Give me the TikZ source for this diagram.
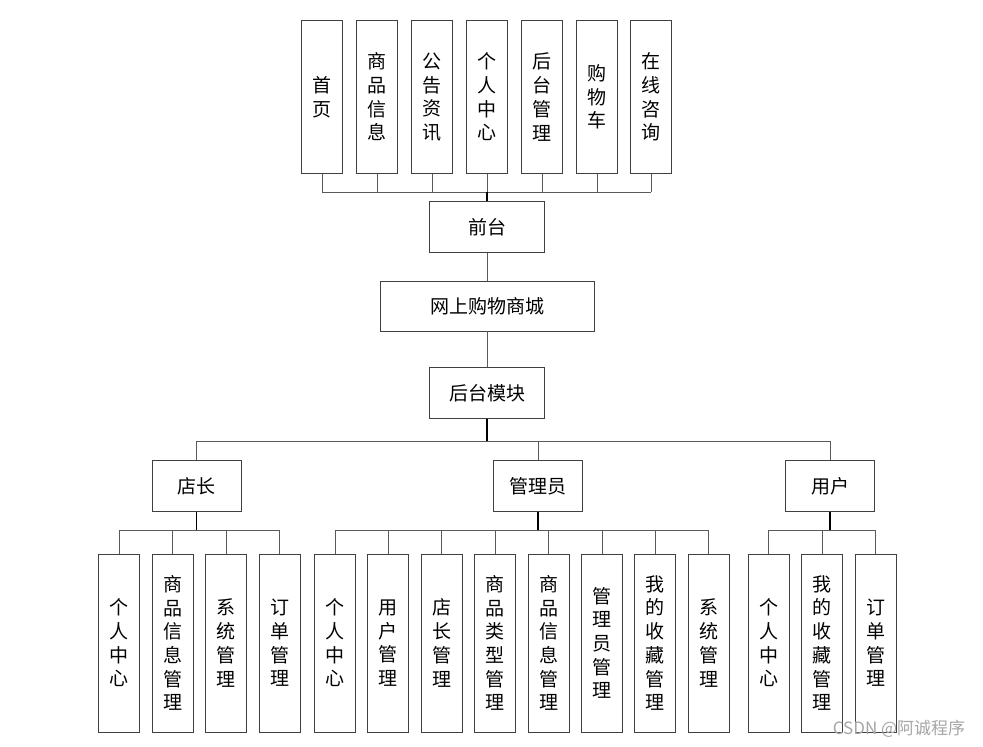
\documentclass[tikz,border=0pt]{standalone}
\usepackage{fontspec}
\newfontfamily\cjk{Noto Sans CJK SC}
\begin{document}
\begin{tikzpicture}[x=1pt,y=-1pt,
  box/.style={draw=black!75, line width=0.9pt, fill=white, inner sep=0pt,
    font=\cjk\fontsize{19}{23.7}\selectfont, align=center},
  hbox/.style={box, minimum width=89pt, minimum height=51pt},
  topbox/.style={box, minimum width=41pt, minimum height=153pt},
  leaf/.style={box, minimum width=41pt, minimum height=178pt},
  link/.style={draw=black!65, line width=0.9pt},
  trunk/.style={draw=black, line width=1.2pt}]
\useasboundingbox (0,0) rectangle (983,747);

% top row
\node[topbox] (t1) at (322,97) {首\\页};
\node[topbox] (t2) at (377,97) {商\\品\\信\\息};
\node[topbox] (t3) at (432,97) {公\\告\\资\\讯};
\node[topbox] (t4) at (487,97) {个\\人\\中\\心};
\node[topbox] (t5) at (542,97) {后\\台\\管\\理};
\node[topbox] (t6) at (597,97) {购\\物\\车};
\node[topbox] (t7) at (651,97) {在\\线\\咨\\询};

\node[box, minimum width=115pt, minimum height=51pt] (qt) at (487,227) {前台};
\node[box, minimum width=214pt, minimum height=50pt] (mall) at (487,306) {网上购物商城};
\node[box, minimum width=115pt, minimum height=51pt] (ht) at (487,392.8) {后台模块};

\node[hbox] (dz) at (196.7,486) {店长};
\node[hbox] (gl) at (538,486) {管理员};
\node[hbox] (yh) at (830,486) {用户};

% leaves of 店长
\node[leaf] (d1) at (119,643) {个\\人\\中\\心};
\node[leaf] (d2) at (172.5,643) {商\\品\\信\\息\\管\\理};
\node[leaf] (d3) at (226,643) {系\\统\\管\\理};
\node[leaf] (d4) at (279.5,643) {订\\单\\管\\理};
% leaves of 管理员
\node[leaf] (g1) at (335,643) {个\\人\\中\\心};
\node[leaf] (g2) at (388.4,643) {用\\户\\管\\理};
\node[leaf] (g3) at (441.8,643) {店\\长\\管\\理};
\node[leaf] (g4) at (495.2,643) {商\\品\\类\\型\\管\\理};
\node[leaf] (g5) at (548.6,643) {商\\品\\信\\息\\管\\理};
\node[leaf] (g6) at (602,643) {管\\理\\员\\管\\理};
\node[leaf] (g7) at (655.4,643) {我\\的\\收\\藏\\管\\理};
\node[leaf] (g8) at (708.8,643) {系\\统\\管\\理};
% leaves of 用户
\node[leaf] (u1) at (768.5,643) {个\\人\\中\\心};
\node[leaf] (u2) at (822,643) {我\\的\\收\\藏\\管\\理};
\node[leaf] (u3) at (875.5,643) {订\\单\\管\\理};

% connectors
\coordinate (b1) at (487,192);
\coordinate (b2) at (487,441.7);
\coordinate (b3) at (0,530.3);

\foreach \i in {1,...,7} \draw[link] (t\i.south) -- (t\i.south |- b1);
\draw[link] (t1.south |- b1) -- (t7.south |- b1);
\draw[trunk] (qt.north) -- (qt.north |- b1);
\draw[link] (qt.south) -- (mall.north);
\draw[link] (mall.south) -- (ht.north);

\draw[trunk] (ht.south) -- (b2);
\draw[link] (dz.north) -- (dz.north |- b2) -- (yh.north |- b2) -- (yh.north);
\draw[link] (gl.north) -- (gl.north |- b2);

\draw[trunk] (dz.south) -- (dz.south |- b3);
\draw[link] (d1.north |- b3) -- (d4.north |- b3);
\foreach \n in {d1,d2,d3,d4} \draw[link] (\n.north) -- (\n.north |- b3);

\draw[trunk] (gl.south) -- (gl.south |- b3);
\draw[link] (g1.north |- b3) -- (g8.north |- b3);
\foreach \n in {g1,g2,g3,g4,g5,g6,g7,g8} \draw[link] (\n.north) -- (\n.north |- b3);

\draw[trunk] (yh.south) -- (yh.south |- b3);
\draw[link] (u1.north |- b3) -- (u3.north |- b3);
\foreach \n in {u1,u2,u3} \draw[link] (\n.north) -- (\n.north |- b3);

% watermark
\node[text=black!35, font=\cjk\fontsize{17}{20}\selectfont, inner sep=0pt] (wm) at (899,729) {CSDN @阿诚程序};
\end{tikzpicture}
\end{document}
